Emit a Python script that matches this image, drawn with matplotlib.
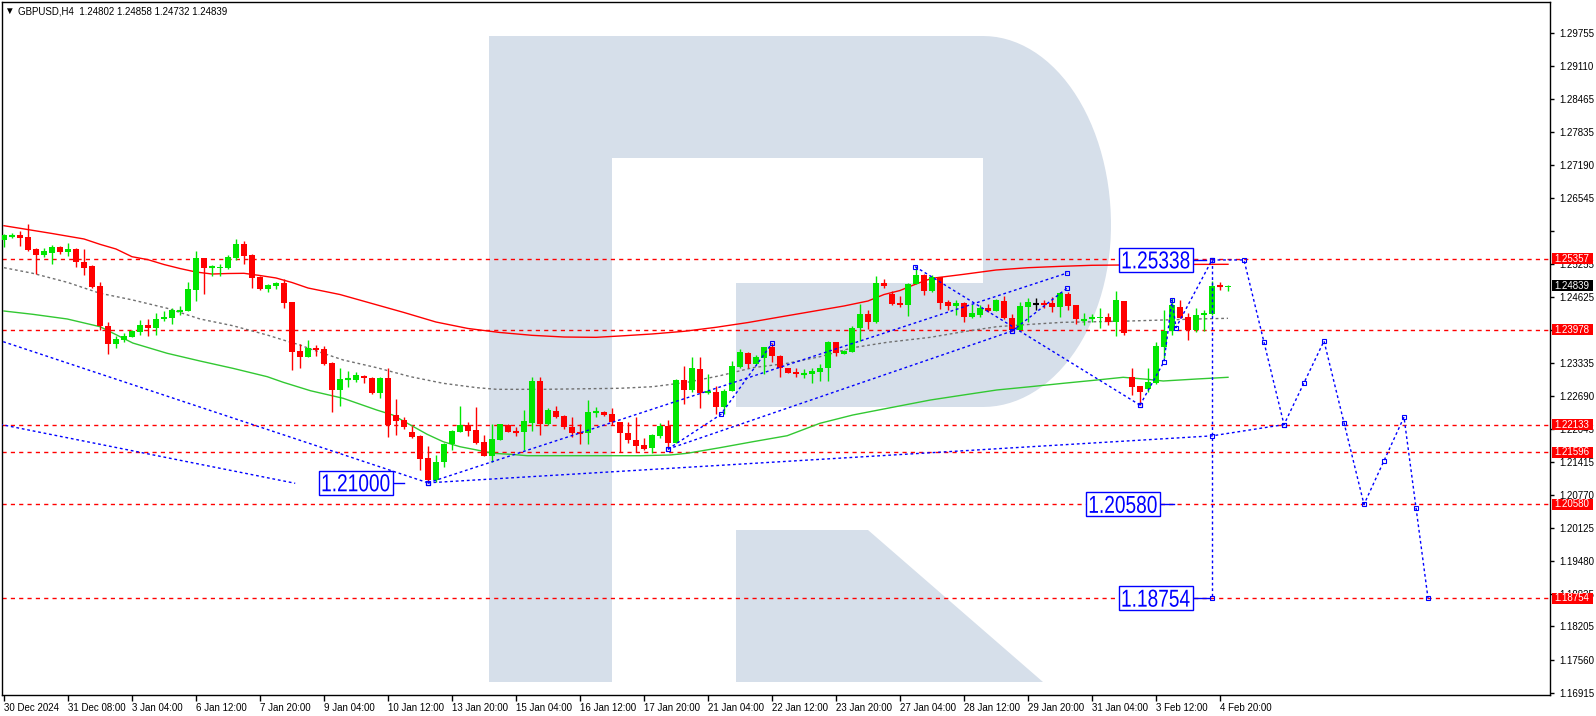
import matplotlib
matplotlib.use("Agg")
import matplotlib.pyplot as plt
import matplotlib.transforms as mtransforms
from matplotlib.patches import Rectangle, Polygon, PathPatch
from matplotlib.textpath import TextPath
from matplotlib.font_manager import FontProperties
import numpy as np

# ---- data (H4 bars, index 0 = 30 Dec 2024 00:00) ----
opens = [1.25726, 1.25804, 1.25823, 1.25784, 1.25544, 1.25434, 1.25479, 1.25590, 1.25499, 1.25551,
         1.25291, 1.25220, 1.24830, 1.24052, 1.23708, 1.23779, 1.23844, 1.23941, 1.24071, 1.24019,
         1.24188, 1.24214, 1.24337, 1.24350, 1.24752, 1.25369, 1.25187, 1.25174, 1.25174, 1.25369,
         1.25648, 1.25434, 1.25012, 1.24772, 1.24824, 1.24889, 1.24519, 1.23565, 1.23448, 1.23617,
         1.23604, 1.23331, 1.22812, 1.23013, 1.23000, 1.23078, 1.23046, 1.22754, 1.23033, 1.22319,
         1.22228, 1.21981, 1.21910, 1.21475, 1.21053, 1.21410, 1.21748, 1.21994, 1.22124, 1.22027,
         1.21793, 1.21527, 1.21838, 1.22124, 1.22001, 1.21994, 1.22169, 1.22981, 1.22137, 1.22397,
         1.22299, 1.22092, 1.21981, 1.21975, 1.22371, 1.22371, 1.22338, 1.22176, 1.21968, 1.21832,
         1.21735, 1.21670, 1.21910, 1.22105, 1.21780, 1.23000, 1.22805, 1.23214, 1.22754, 1.22760,
         1.22481, 1.22792, 1.23260, 1.23526, 1.23318, 1.23435, 1.23636, 1.23467, 1.23227, 1.23156,
         1.23104, 1.23110, 1.23162, 1.23227, 1.23734, 1.23513, 1.23552, 1.24006, 1.24279, 1.24136,
         1.24882, 1.24675, 1.24493, 1.24460, 1.24863, 1.25044, 1.24739, 1.24999, 1.24512, 1.24447,
         1.24499, 1.24233, 1.24266, 1.24395, 1.24350, 1.24538, 1.24201, 1.23974, 1.24428, 1.24473,
         1.24493, 1.24499, 1.24428, 1.24668, 1.24460, 1.24168, 1.24201, 1.24201, 1.24227, 1.24136,
         1.24538, 1.23052, 1.22883, 1.22818, 1.22948, 1.23649, 1.23954, 1.24415, 1.24220, 1.23974,
         1.24266, 1.24279, 1.24830, 1.24802]
highs = [1.25836, 1.25862, 1.25901, 1.26037, 1.25564, 1.25577, 1.25629, 1.25616, 1.25661, 1.25564,
         1.25551, 1.25239, 1.24915, 1.24123, 1.23857, 1.23922, 1.23967, 1.24168, 1.24181, 1.24298,
         1.24344, 1.24408, 1.24441, 1.24915, 1.25512, 1.25382, 1.25239, 1.25252, 1.25434, 1.25745,
         1.25713, 1.25447, 1.25025, 1.24863, 1.24915, 1.24960, 1.24519, 1.23695, 1.23779, 1.23682,
         1.23669, 1.23344, 1.23227, 1.23175, 1.23162, 1.23097, 1.23065, 1.23065, 1.23227, 1.22630,
         1.22280, 1.22098, 1.21929, 1.21722, 1.21540, 1.21767, 1.22027, 1.22494, 1.22176, 1.22474,
         1.21929, 1.22137, 1.22143, 1.22143, 1.22079, 1.22416, 1.23052, 1.23052, 1.22461, 1.22494,
         1.22319, 1.22280, 1.22137, 1.22611, 1.22468, 1.22397, 1.22448, 1.22189, 1.22182, 1.22273,
         1.21864, 1.21949, 1.22156, 1.22221, 1.23013, 1.23273, 1.23448, 1.23441, 1.23110, 1.22883,
         1.22825, 1.23370, 1.23597, 1.23552, 1.23487, 1.23649, 1.23714, 1.23487, 1.23240, 1.23227,
         1.23208, 1.23227, 1.23312, 1.23759, 1.23734, 1.23578, 1.24052, 1.24480, 1.24363, 1.25025,
         1.24967, 1.24733, 1.24636, 1.24882, 1.25207, 1.25057, 1.25044, 1.25012, 1.24558, 1.24558,
         1.24525, 1.24480, 1.24460, 1.24473, 1.24571, 1.24642, 1.24285, 1.24512, 1.24590, 1.24590,
         1.24558, 1.24623, 1.24720, 1.24720, 1.24460, 1.24298, 1.24279, 1.24395, 1.24298, 1.24733,
         1.24538, 1.23227, 1.22883, 1.23227, 1.23746, 1.24363, 1.24603, 1.24558, 1.24298, 1.24395,
         1.24363, 1.24928, 1.24902, 1.24858]
lows = [1.25596, 1.25758, 1.25616, 1.25512, 1.25064, 1.25401, 1.25259, 1.25447, 1.25421, 1.25207,
        1.25044, 1.24798, 1.23974, 1.23513, 1.23630, 1.23746, 1.23837, 1.23876, 1.23863, 1.23876,
        1.24155, 1.24097, 1.24266, 1.24344, 1.24538, 1.24675, 1.25032, 1.25032, 1.25161, 1.25337,
        1.25252, 1.24798, 1.24759, 1.24720, 1.24772, 1.24395, 1.23195, 1.23240, 1.23448, 1.23474,
        1.23292, 1.22384, 1.22500, 1.22870, 1.22968, 1.22935, 1.22728, 1.22656, 1.21897, 1.21929,
        1.22046, 1.21864, 1.21248, 1.21000, 1.21021, 1.21313, 1.21631, 1.21981, 1.21916, 1.21748,
        1.21514, 1.21410, 1.21832, 1.21988, 1.21916, 1.21637, 1.22014, 1.21929, 1.22124, 1.22254,
        1.22046, 1.21884, 1.21748, 1.21754, 1.22273, 1.22299, 1.22124, 1.21605, 1.21767, 1.21592,
        1.21637, 1.21585, 1.21864, 1.21657, 1.21767, 1.22533, 1.22773, 1.22461, 1.22721, 1.22338,
        1.22332, 1.22786, 1.23227, 1.23227, 1.23305, 1.23110, 1.23357, 1.23065, 1.23130, 1.23065,
        1.23033, 1.22935, 1.22987, 1.22987, 1.23467, 1.23500, 1.23539, 1.23766, 1.23993, 1.24103,
        1.24785, 1.24460, 1.24428, 1.24253, 1.24863, 1.24655, 1.24720, 1.24376, 1.24363, 1.24266,
        1.24136, 1.24214, 1.24220, 1.24331, 1.24344, 1.24188, 1.23954, 1.23967, 1.24136, 1.24363,
        1.24395, 1.24318, 1.24233, 1.24363, 1.24084, 1.24071, 1.24123, 1.24006, 1.24071, 1.23863,
        1.23876, 1.22708, 1.22513, 1.22773, 1.22916, 1.23422, 1.23876, 1.24201, 1.23779, 1.23941,
        1.23954, 1.24266, 1.24752, 1.24732]
closes = [1.25823, 1.25817, 1.25771, 1.25531, 1.25434, 1.25512, 1.25596, 1.25499, 1.25551, 1.25291,
          1.25187, 1.24817, 1.24058, 1.23708, 1.23798, 1.23857, 1.23954, 1.24071, 1.24019, 1.24188,
          1.24220, 1.24363, 1.24350, 1.24772, 1.25369, 1.25187, 1.25200, 1.25207, 1.25395, 1.25648,
          1.25421, 1.24993, 1.24772, 1.24850, 1.24889, 1.24506, 1.23552, 1.23448, 1.23630, 1.23591,
          1.23318, 1.22812, 1.23020, 1.23026, 1.23091, 1.23033, 1.22754, 1.23046, 1.22124, 1.22208,
          1.22079, 1.21884, 1.21462, 1.21053, 1.21410, 1.21754, 1.22007, 1.22124, 1.22014, 1.21767,
          1.21527, 1.21851, 1.22137, 1.21994, 1.21988, 1.22202, 1.22981, 1.22137, 1.22416, 1.22273,
          1.22079, 1.21975, 1.21968, 1.22371, 1.22390, 1.22319, 1.22176, 1.21962, 1.21825, 1.21722,
          1.21657, 1.21929, 1.22105, 1.21780, 1.23000, 1.22812, 1.23227, 1.22754, 1.22773, 1.22481,
          1.22792, 1.23273, 1.23539, 1.23318, 1.23441, 1.23643, 1.23461, 1.23227, 1.23143, 1.23110,
          1.23117, 1.23175, 1.23227, 1.23740, 1.23519, 1.23565, 1.24006, 1.24279, 1.24136, 1.24882,
          1.24830, 1.24480, 1.24460, 1.24863, 1.25044, 1.24739, 1.24999, 1.24493, 1.24447, 1.24499,
          1.24233, 1.24298, 1.24395, 1.24350, 1.24558, 1.24201, 1.23974, 1.24441, 1.24512, 1.24473,
          1.24480, 1.24428, 1.24688, 1.24447, 1.24181, 1.24188, 1.24207, 1.24227, 1.24136, 1.24558,
          1.23909, 1.22870, 1.22773, 1.22955, 1.23662, 1.23954, 1.24460, 1.24214, 1.23974, 1.24266,
          1.24311, 1.24830, 1.24817, 1.24839]

# moving averages (bar index, price)
ma_red_x = [0, 2, 6, 10, 12, 14, 16, 18, 20, 22, 24, 26, 28, 30, 32, 34, 36, 38, 42, 46, 50, 54, 58, 62,
            66, 70, 74, 77, 81, 85, 89, 93, 97, 101, 105, 108, 110, 112, 114, 116, 120, 124, 128,
            132, 136, 140, 144, 148, 153]
ma_red_y = [1.26004, 1.25954, 1.25853, 1.25746, 1.25642, 1.25551, 1.25401, 1.25343, 1.25249, 1.25171,
            1.25103, 1.25064, 1.25074, 1.25078, 1.25035, 1.24987, 1.24899, 1.24792, 1.24665, 1.24490,
            1.24315, 1.24130, 1.24004, 1.23926, 1.23871, 1.23838, 1.23832, 1.23858, 1.23897, 1.23949,
            1.24027, 1.24120, 1.24228, 1.24335, 1.24442, 1.24539, 1.24665, 1.24743, 1.24870, 1.24981,
            1.25059, 1.25142, 1.25187, 1.25213, 1.25234, 1.25240, 1.25245, 1.25251, 1.25253]
ma_gray_x = [0, 3.6, 7.9, 12, 14.1, 16.1, 20.4, 24.5, 28.6, 32.9, 34.9, 37, 38.3, 42.4, 46.6, 50.8,
             54.9, 59.1, 61.6, 67.4, 77, 81.1, 85.4, 89.5, 93.6, 97.9, 102, 106.1, 110.4, 115.8,
             119.9, 124.1, 128.3, 132.4, 136.6, 140.8, 144.9, 149.1, 153]
ma_gray_y = [1.25187, 1.25078, 1.24903, 1.24689, 1.24623, 1.24558, 1.24397, 1.24189, 1.24058, 1.23877,
             1.23780, 1.23683, 1.23605, 1.23391, 1.23241, 1.23066, 1.22937, 1.22852, 1.22820, 1.22820,
             1.22840, 1.22871, 1.22957, 1.23085, 1.23241, 1.23326, 1.23455, 1.23630, 1.23735, 1.23832,
             1.23941, 1.24039, 1.24085, 1.24124, 1.24136, 1.24150, 1.24169, 1.24189, 1.24202]
ma_green_x = [0, 3.6, 7.9, 12, 16.1, 20.4, 24.5, 28.6, 32.9, 34.9, 38.3, 42.4, 46.6, 48.6, 50.8, 52.9,
              54.9, 57, 59.1, 61.1, 63.3, 65.4, 74.1, 79.5, 83.3, 85.4, 89.5, 93.6, 97.9, 102, 106.1,
              110.4, 115.8, 119.9, 124.1, 128.3, 132.4, 136.6, 139.9, 142.9, 144.9, 149.1, 153]
ma_green_y = [1.24344, 1.24280, 1.24189, 1.24039, 1.23721, 1.23521, 1.23371, 1.23229, 1.23066, 1.22957,
              1.22793, 1.22645, 1.22417, 1.22320, 1.22126, 1.21944, 1.21800, 1.21703, 1.21639, 1.21575,
              1.21555, 1.21528, 1.21528, 1.21528, 1.21542, 1.21575, 1.21684, 1.21800, 1.21917, 1.22159,
              1.22320, 1.22450, 1.22612, 1.22709, 1.22807, 1.22871, 1.22937, 1.23001, 1.23054, 1.23015,
              1.22982, 1.23021, 1.23054]

levels = [1.25357, 1.23978, 1.22133, 1.21596, 1.20580, 1.18754]
last_price = 1.24839

tick_vals = [1.29755, 1.29110, 1.28465, 1.27835, 1.27190, 1.26545, 1.25900, 1.25255, 1.24625, 1.23980,
             1.23335, 1.22690, 1.22045, 1.21415, 1.20770, 1.20125, 1.19480, 1.18835, 1.18205, 1.17560,
             1.16915]
hidden_ticks = ["1.25900", "1.23980"]
tick_text = ["" if s in hidden_ticks else s for s in ["%.5f" % t for t in tick_vals]]

x_labels = ["30 Dec 2024", "31 Dec 08:00", "3 Jan 04:00", "6 Jan 12:00", "7 Jan 20:00", "9 Jan 04:00",
            "10 Jan 12:00", "13 Jan 20:00", "15 Jan 04:00", "16 Jan 12:00", "17 Jan 20:00",
            "21 Jan 04:00", "22 Jan 12:00", "23 Jan 20:00", "27 Jan 04:00", "28 Jan 12:00",
            "29 Jan 20:00", "31 Jan 04:00", "3 Feb 12:00", "4 Feb 20:00"]

# analyst drawings: dotted trend lines / wave paths (bar, price), anchor flags per vertex
blue_paths = [
    ([(-0.1, 1.23747), (53, 1.21000)], [0, 1]),
    ([(-0.5, 1.22139), (36.4, 1.20991)], [0, 0]),
    ([(53, 1.21000), (132.9, 1.25084)], [1, 1]),
    ([(53, 1.21000), (151, 1.21914), (160, 1.22133)], [1, 1, 1]),
    ([(83, 1.21657), (126, 1.23954)], [1, 1]),
    ([(113.9, 1.25207), (142, 1.22513)], [1, 1]),
    ([(126, 1.23954), (132.9, 1.24792)], [1, 1]),
    ([(83, 1.21657), (89.6, 1.22330), (96, 1.23714)], [1, 1, 1]),
    ([(142, 1.22513), (145, 1.23358), (146, 1.24558), (146.5, 1.24020), (151, 1.25338)],
     [1, 1, 1, 1, 1]),
    ([(151, 1.25338), (151, 1.18754)], [1, 1]),
    ([(151, 1.25338), (155, 1.25338), (157.5, 1.23736), (160, 1.22133), (162.5, 1.22947),
      (165, 1.23760), (167.5, 1.22170), (170, 1.20580), (172.5, 1.21430), (175, 1.22280),
      (176.5, 1.20517), (178, 1.18754)], [1] * 12),
]
big_labels = [(144, 1.25338, "1.25338", 150.2), (44, 1.21000, "1.21000", 50),
              (139.9, 1.20580, "1.20580", 146.2), (144, 1.18754, "1.18754", 150.8)]

# ---- figure ----
W, H = 1596, 716
fig = plt.figure(figsize=(W / 100, H / 100), dpi=100)
fam = ["Liberation Sans", "DejaVu Sans"]

# watermark (background logo), in pixel coordinates
wm = fig.add_axes([0, 0, 1, 1], zorder=0)
wm.set_xlim(0, W)
wm.set_ylim(H, 0)
wm.axis("off")
wm_col = "#d6dfea"
t = np.linspace(-np.pi / 2, np.pi / 2, 60)
arc = [(983 + 128 * np.cos(a), 225 + (189 if a < 0 else 182) * np.sin(a)) for a in t]
outer = [(489, 36)] + arc + [(736, 407), (736, 283), (983, 283), (983, 158), (612, 158),
                             (612, 682), (489, 682)]
wm.add_patch(Polygon(outer, closed=True, fc=wm_col, ec="none"))
wm.add_patch(Polygon([(736, 530), (868, 530), (1043, 682), (736, 682)], closed=True,
                     fc=wm_col, ec="none"))

px_l, px_r, px_t, px_b = 2, 1550, 2, 695
ax = fig.add_axes([px_l / W, 1 - px_b / H, (px_r - px_l) / W, (px_b - px_t) / H], zorder=2)
ax.set_facecolor("none")
ppu = 5138.0  # pixels per price unit
ax.set_xlim((px_l - 4) / 8, (px_r - 4) / 8)
ax.set_ylim(1.29755 - (px_b - 33) / ppu, 1.29755 + (33 - px_t) / ppu)
for s in ax.spines.values():
    s.set_linewidth(1)
    s.set_color("black")

# levels
for lv in levels:
    ax.axhline(lv, color="#ff0000", lw=1, ls=(0, (3, 3)), zorder=1)

# moving averages
ax.plot(ma_red_x, ma_red_y, color="#ff0000", lw=1, zorder=2)
ax.plot(ma_gray_x, ma_gray_y, color="#707070", lw=1, ls=(0, (2, 2)), zorder=2)
ax.plot(ma_green_x, ma_green_y, color="#32c832", lw=1, zorder=2)

# candles
for i, (o, h, l, c) in enumerate(zip(opens, highs, lows, closes)):
    col = "#00e600" if c > o else ("#ff0000" if c < o else "black")
    ax.vlines(i, l, h, color=col, lw=1, zorder=3)
    lo, hi = min(o, c), max(o, c)
    if hi - lo < 0.00025:
        ax.hlines((o + c) / 2, i - 0.36, i + 0.36, color=col, lw=1.5, zorder=3)
    else:
        ax.add_patch(Rectangle((i - 0.32, lo), 0.64, hi - lo, fc=col, ec="none", zorder=3))

# blue drawings
for path, flags in blue_paths:
    xs, ys = zip(*path)
    ax.plot(xs, ys, color="#0000ff", lw=1, ls=(0, (2, 2)), zorder=4)
    mx = [x for x, f in zip(xs, flags) if f]
    my = [y for y, f in zip(ys, flags) if f]
    ax.plot(mx, my, ls="none", marker="s", ms=3.5, mfc="none", mec="#0000ff", mew=0.8, zorder=4)

# price label objects, narrow blue digits in a framed box
fig.canvas.draw()
fp = FontProperties(family="Liberation Sans")
for xc, yc, txt, xend in big_labels:
    bw, bh = 74 / 8, 24 / ppu
    ax.plot([xc + bw / 2, xend], [yc, yc], color="#0000ff", lw=1, zorder=5)
    ax.add_patch(Rectangle((xc - bw / 2, yc - bh / 2), bw, bh, fc="white", ec="#0000ff",
                           lw=1, zorder=5))
    tp = TextPath((0, 0), txt, size=24.5, prop=fp)
    bb = tp.get_extents()
    ox, oy = ax.transData.transform((xc, yc))
    tr = (mtransforms.Affine2D().translate(-(bb.x0 + bb.x1) / 2, -(bb.y0 + bb.y1) / 2)
          .scale(0.78, 1).translate(ox, oy))
    ax.add_patch(PathPatch(tp, transform=tr, fc="#0000ff", ec="none", zorder=6))

# right price scale
ax.yaxis.tick_right()
ax.set_yticks(tick_vals)
ax.set_yticklabels(tick_text, family=fam, fontsize=7)
ax.tick_params(axis="y", length=3, pad=4, width=1)
trans = mtransforms.blended_transform_factory(ax.transAxes, ax.transData)
x0 = (1551.5 - px_l) / (px_r - px_l)
x1 = (1593 - px_l) / (px_r - px_l)
for lv, fc in [(lv, "#ff0000") for lv in levels] + [(last_price, "black")]:
    ax.add_patch(Rectangle((x0, lv - 5.5 / ppu), x1 - x0, 11 / ppu, transform=trans,
                           fc=fc, ec="none", clip_on=False, zorder=7))
    ax.text((x0 + x1) / 2, lv, "%.5f" % lv, transform=trans, ha="center", va="center",
            color="white", fontsize=7, family=fam, clip_on=False, zorder=8)

# time axis
ax.set_xticks(range(0, 8 * len(x_labels), 8))
ax.set_xticklabels(x_labels, family=fam, fontsize=7, ha="left")
ax.tick_params(axis="x", length=4, pad=2, width=1)

# header
fig.text(9 / W, 1 - 11 / H, "\u25bc", fontsize=7, ha="center", va="center", family=fam)
fig.text(18 / W, 1 - 11 / H, "GBPUSD,H4  1.24802 1.24858 1.24732 1.24839", fontsize=7,
         ha="left", va="center", family=fam)

fig.savefig("out.png", dpi=100)
